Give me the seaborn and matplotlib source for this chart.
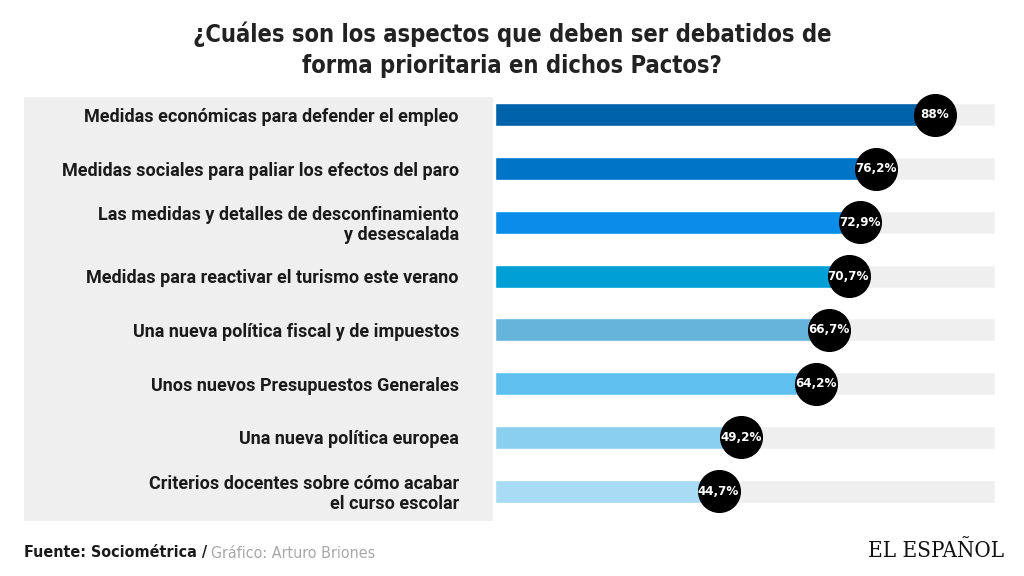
import numpy as np
import pandas as pd
import matplotlib
matplotlib.use("Agg")
import matplotlib.pyplot as plt
import seaborn as sns
from matplotlib.patches import Rectangle

# data
categories = [
    "Medidas económicas para defender el empleo",
    "Medidas sociales para paliar los efectos del paro",
    "Las medidas y detalles de desconfinamiento\ny desescalada",
    "Medidas para reactivar el turismo este verano",
    "Una nueva política fiscal y de impuestos",
    "Unos nuevos Presupuestos Generales",
    "Una nueva política europea",
    "Criterios docentes sobre cómo acabar\nel curso escolar",
]
values = [88.0, 76.2, 72.9, 70.7, 66.7, 64.2, 49.2, 44.7]
value_labels = ["88%", "76,2%", "72,9%", "70,7%", "66,7%", "64,2%", "49,2%", "44,7%"]
bar_colors = ["#0062a8", "#0075c8", "#0a8ceb", "#00a0d6",
              "#66b4da", "#5ec0ee", "#8bcfef", "#a8dbf4"]

sns.set_theme(style="white")
plt.rcParams["font.family"] = ["Roboto", "DejaVu Sans"]

df = pd.DataFrame({"cat": categories, "val": values, "full": [100] * len(values)})

fig = plt.figure(figsize=(10.24, 5.76), dpi=100)

# grey panel behind the labels
fig.patches.append(Rectangle((24 / 1024, 1 - 521 / 576), (493 - 24) / 1024, (521 - 97) / 576,
                             transform=fig.transFigure, facecolor="#efefef",
                             edgecolor="none", zorder=-1))

ax = fig.add_axes([495 / 1024, 1 - 518 / 576, (998 - 495) / 1024, (518 - 88) / 576])
ax.set_facecolor("none")

sns.barplot(data=df, x="full", y="cat", color="#efefef", width=0.43, ax=ax,
            saturation=1)
sns.barplot(data=df, x="val", y="cat", hue="cat", palette=bar_colors, width=0.43,
            ax=ax, saturation=1, legend=False)

ax.scatter(df["val"], np.arange(len(df)), s=900, color="black", zorder=5, clip_on=False)
for i, (v, lab) in enumerate(zip(values, value_labels)):
    ax.text(v, i, lab, ha="center", va="center", color="white", fontsize=9.5,
            fontweight="bold", family="DejaVu Sans", fontstretch="condensed", zorder=6)

ax.set_xlim(0, 100.6)
ax.set_ylim(len(df) - 0.5, -0.5)
ax.set_xlabel("")
ax.set_ylabel("")
ax.set_xticks([])
sns.despine(ax=ax, left=True, bottom=True)
ax.tick_params(axis="y", length=0, pad=26)
for t in ax.get_yticklabels():
    t.set_fontsize(13)
    t.set_fontweight("bold")
    t.set_color("#1a1a1a")
    t.set_linespacing(1.15)

fig.text(0.5, 0.914, "¿Cuáles son los aspectos que deben ser debatidos de\nforma prioritaria en dichos Pactos?",
         ha="center", va="center", fontsize=17, fontweight="bold", color="#222222",
         family="DejaVu Sans", fontstretch="condensed", linespacing=1.35)

t1 = fig.text(24 / 1024, 1 - 553 / 576, "Fuente: Sociométrica / ", ha="left", va="center",
              fontsize=11.5, fontweight="bold", color="#1a1a1a",
              family="DejaVu Sans", fontstretch="condensed")
fig.canvas.draw()
bb = t1.get_window_extent()
fig.text(bb.x1 / 1024 - 0.001, 1 - 553 / 576, "Gráfico: Arturo Briones", ha="left", va="center",
         fontsize=11.5, color="#a8a8a8", family="DejaVu Sans", fontstretch="condensed")
fig.text(1004 / 1024, 1 - 551 / 576, "EL ESPAÑOL", ha="right", va="center",
         fontsize=16, color="#111111", family="DejaVu Serif", fontstretch="condensed")

fig.savefig("out.png", dpi=100, facecolor="white")
